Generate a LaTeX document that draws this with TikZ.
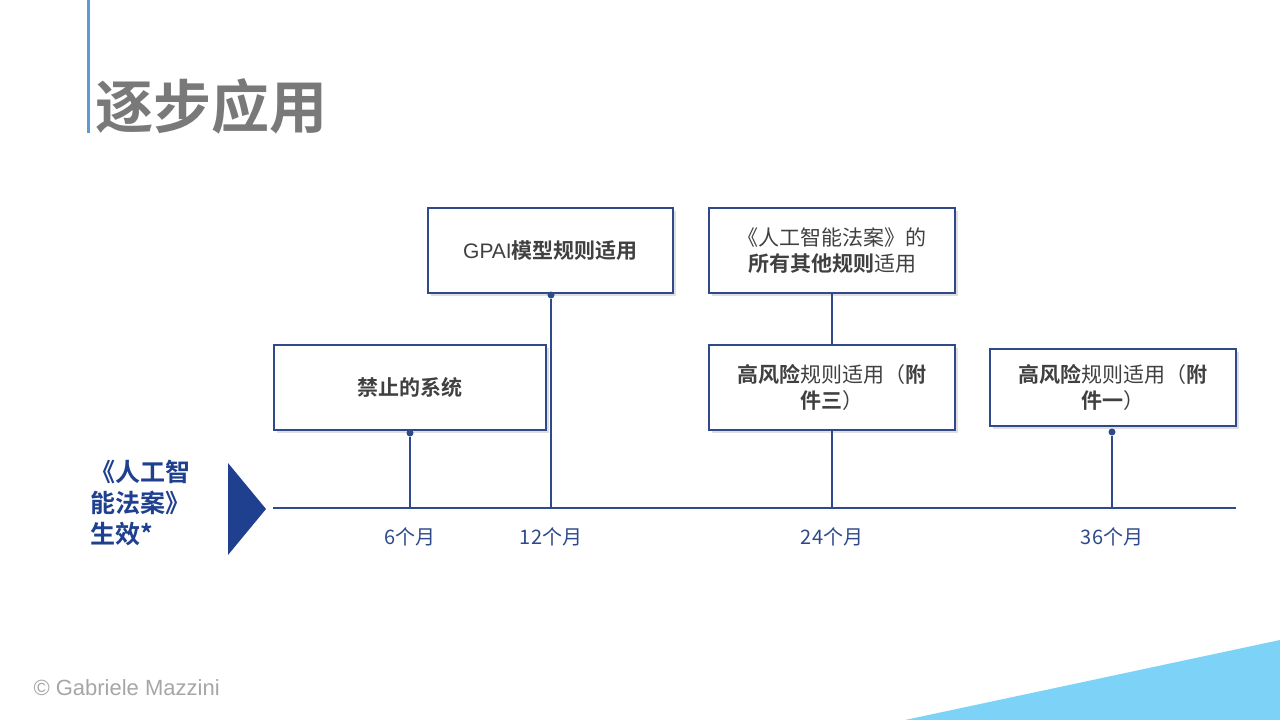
\documentclass[tikz,border=0pt]{standalone}
\usepackage{fontspec}
\setmainfont{Noto Sans CJK SC}[BoldFont={Noto Sans CJK SC Bold}]
\newfontfamily\lat{Liberation Sans}
\usetikzlibrary{shadows}
\definecolor{dblue}{HTML}{2E4A8B}
\definecolor{tblue}{HTML}{1F3F8F}
\definecolor{lblue}{HTML}{5B9BD5}
\definecolor{cyan1}{HTML}{7DD3F7}
\definecolor{txt}{HTML}{404040}
\tikzset{
 tbox/.style={draw=dblue,line width=2pt,fill=white,text=txt,align=center,font=\fontsize{21}{26}\selectfont,drop shadow={shadow xshift=3pt,shadow yshift=-3pt,opacity=0.25}},
 tl/.style={draw=dblue,line width=2pt},
 mlab/.style={text=dblue,font=\fontsize{20}{24}\selectfont},
 dot/.style={circle,fill=dblue,inner sep=0pt,minimum size=7pt}
}
\begin{document}
\begin{tikzpicture}[x=1pt,y=-1pt]
\useasboundingbox (0,0) rectangle (1280,720);
\fill[cyan1] (905,720) -- (1280,640) -- (1280,720) -- cycle;
\draw[lblue,line width=3pt] (88,0) -- (88,133);
\node[anchor=west,text=gray!95!black,font=\fontsize{58}{60}\selectfont\bfseries] (title) at (92,106) {逐步应用};
\node[tbox,minimum width=272pt,minimum height=85pt] (b1) at (410,387.5) {\textbf{禁止的系统}};
\node[tbox,minimum width=245pt,minimum height=85pt] (b2) at (550.5,250.5) {{\lat GPAI}\textbf{模型规则适用}};
\node[tbox,minimum width=246pt,minimum height=85pt] (b3) at (832,250.5) {《人工智能法案》的\\\textbf{所有其他规则}适用};
\node[tbox,minimum width=246pt,minimum height=85pt] (b4) at (832,387.5) {\textbf{高风险}规则适用（\textbf{附}\\\textbf{件三}）};
\node[tbox,minimum width=246pt,minimum height=77pt] (b5) at (1113,387.5) {\textbf{高风险}规则适用（\textbf{附}\\\textbf{件一}）};
\coordinate (ls) at (273,508); \coordinate (le) at (1236,508);
\draw[tl,drop shadow={shadow xshift=2pt,shadow yshift=-2pt,opacity=0.25}] (ls) -- (le);
\coordinate (t1) at (410,508); \coordinate (t2) at (551,508);
\coordinate (t3) at (832,508); \coordinate (t4) at (1112,508);
\node[dot] (d1) at (410,433) {}; \node[dot] (d2) at (551,295) {};
\node[dot] (d4) at (1112,432) {};
\draw[tl] (d1) -- (t1); \draw[tl] (d2) -- (t2);
\draw[tl] (b3.south) -- (b4.north); \draw[tl] (b4.south) -- (t3);
\draw[tl] (d4) -- (t4);
\node[mlab] (m1) at (410,537) {6个月};
\node[mlab] (m2) at (551,537) {12个月};
\node[mlab] (m3) at (832,537) {24个月};
\node[mlab] (m4) at (1112,537) {36个月};
\node[anchor=north west,align=left,text=tblue,font=\fontsize{25}{31}\selectfont\bfseries,inner sep=0pt] (law) at (90,460) {《人工智\\能法案》\\生效*};
\fill[tblue] (228,463) -- (266,509) -- (228,555) -- cycle;
\node[anchor=west,text=gray!70,font=\fontsize{22}{24}\selectfont\lat] (copy) at (30,688) {© Gabriele Mazzini};
\end{tikzpicture}
\end{document}
